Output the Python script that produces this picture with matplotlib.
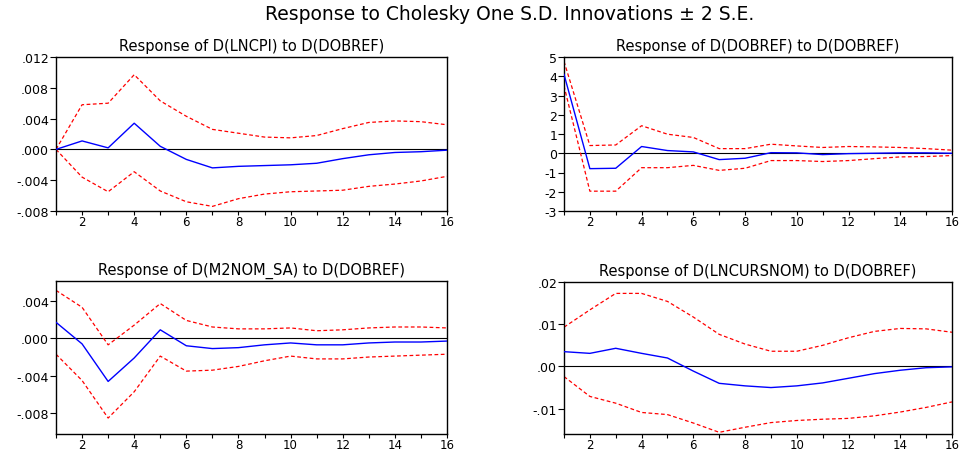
import matplotlib
matplotlib.use("Agg")
import matplotlib.pyplot as plt
from matplotlib.ticker import FixedLocator

plt.rcParams['font.family'] = ['DejaVu Sans']

periods = list(range(1, 17))

titles = [
    "Response of D(LNCPI) to D(DOBREF)",
    "Response of D(DOBREF) to D(DOBREF)",
    "Response of D(M2NOM_SA) to D(DOBREF)",
    "Response of D(LNCURSNOM) to D(DOBREF)",
]

# Panel 1: D(LNCPI)
cpi_resp = [0.0, 0.0011, 0.0002, 0.0034, 0.0004, -0.0013, -0.0024, -0.0022,
            -0.0021, -0.0020, -0.0018, -0.0012, -0.0007, -0.0004, -0.0003, -0.0001]
cpi_up = [0.0, 0.0058, 0.0060, 0.0097, 0.0063, 0.0043, 0.0026, 0.0021,
          0.0016, 0.0015, 0.0018, 0.0027, 0.0035, 0.0037, 0.0036, 0.0032]
cpi_lo = [0.0, -0.0036, -0.0055, -0.0029, -0.0054, -0.0068, -0.0074, -0.0064,
          -0.0058, -0.0055, -0.0054, -0.0053, -0.0048, -0.0045, -0.0041, -0.0035]

# Panel 2: D(DOBREF)
dob_resp = [4.1, -0.80, -0.78, 0.35, 0.14, 0.07, -0.33, -0.26,
            0.03, 0.02, -0.07, -0.02, 0.0, 0.02, 0.02, 0.0]
dob_up = [4.77, 0.40, 0.43, 1.43, 0.99, 0.82, 0.24, 0.24,
          0.47, 0.38, 0.30, 0.35, 0.33, 0.30, 0.24, 0.16]
dob_lo = [3.5, -1.97, -1.97, -0.75, -0.75, -0.63, -0.89, -0.78,
          -0.38, -0.38, -0.43, -0.38, -0.28, -0.19, -0.17, -0.12]

# Panel 3: D(M2NOM_SA)
m2_resp = [0.0017, -0.0006, -0.0046, -0.0021, 0.0009, -0.0008, -0.0011, -0.0010,
           -0.0007, -0.0005, -0.0007, -0.0007, -0.0005, -0.0004, -0.0004, -0.0003]
m2_up = [0.0051, 0.0033, -0.0007, 0.0014, 0.0037, 0.0019, 0.0012, 0.0010,
         0.0010, 0.0011, 0.0008, 0.0009, 0.0011, 0.0012, 0.0012, 0.0011]
m2_lo = [-0.0017, -0.0045, -0.0085, -0.0057, -0.0019, -0.0035, -0.0034, -0.0030,
         -0.0024, -0.0019, -0.0022, -0.0022, -0.0020, -0.0019, -0.0018, -0.0017]

# Panel 4: D(LNCURSNOM)
curs_resp = [0.0035, 0.0031, 0.0043, 0.0031, 0.0020, -0.0011, -0.0040, -0.0046,
             -0.0050, -0.0046, -0.0039, -0.0028, -0.0017, -0.0009, -0.0003, -0.0001]
curs_up = [0.0093, 0.0134, 0.0173, 0.0173, 0.0154, 0.0117, 0.0076, 0.0053,
           0.0036, 0.0036, 0.0050, 0.0068, 0.0083, 0.0090, 0.0089, 0.0081]
curs_lo = [-0.0024, -0.0071, -0.0087, -0.0109, -0.0114, -0.0134, -0.0156, -0.0144,
           -0.0133, -0.0128, -0.0125, -0.0123, -0.0117, -0.0108, -0.0097, -0.0084]

yticks = [
    [-0.008, -0.004, 0.0, 0.004, 0.008, 0.012],
    [-3, -2, -1, 0, 1, 2, 3, 4, 5],
    [-0.008, -0.004, 0.0, 0.004],
    [-0.01, 0.0, 0.01, 0.02],
]
yticklabels = [
    ["-.008", "-.004", ".000", ".004", ".008", ".012"],
    ["-3", "-2", "-1", "0", "1", "2", "3", "4", "5"],
    ["-.008", "-.004", ".000", ".004"],
    ["-.01", ".00", ".01", ".02"],
]
ylims = [(-0.008, 0.012), (-3, 5), (-0.0102, 0.0061), (-0.016, 0.02)]
xticklabels = ["", "2", "", "4", "", "6", "", "8", "", "10", "", "12", "", "14", "", "16"]

W, H = 962, 452
fig = plt.figure(figsize=(W / 100, H / 100), dpi=100)

boxes = [
    (56, 58, 447, 212),
    (564, 58, 952, 212),
    (56, 282, 447, 435),
    (564, 283, 952, 435),
]

series = [
    (cpi_resp, cpi_up, cpi_lo),
    (dob_resp, dob_up, dob_lo),
    (m2_resp, m2_up, m2_lo),
    (curs_resp, curs_up, curs_lo),
]

for i, (box, (resp, up, lo)) in enumerate(zip(boxes, series)):
    x0, y0, x1, y1 = box
    ax = fig.add_axes([x0 / W, 1 - y1 / H, (x1 - x0) / W, (y1 - y0) / H])
    ax.axhline(0, color='black', lw=0.8, zorder=1)
    ax.plot(periods, up, color='#ff0000', lw=0.9, ls=(0, (3, 2)), zorder=2)
    ax.plot(periods, lo, color='#ff0000', lw=0.9, ls=(0, (3, 2)), zorder=2)
    ax.plot(periods, resp, color='#0000ff', lw=1.0, zorder=3)
    ax.set_xlim(1, 16)
    ax.set_ylim(*ylims[i])
    ax.xaxis.set_major_locator(FixedLocator(periods))
    ax.set_xticklabels(xticklabels)
    ax.set_yticks(yticks[i])
    ax.set_yticklabels(yticklabels[i])
    ax.tick_params(axis='y', direction='out', length=4, width=0.8,
                   labelsize=9, pad=1, colors='black')
    ax.tick_params(axis='x', direction='out', length=3, width=0.8,
                   labelsize=8.5, pad=0, colors='black')
    for s in ax.spines.values():
        s.set_linewidth(1.0)
        s.set_color('black')
    ax.set_title(titles[i], fontsize=10.5, pad=5)

fig.text(0.53, 1 - 15 / H, "Response to Cholesky One S.D. Innovations \u00b1 2 S.E.",
         ha='center', va='center', fontsize=13.5)

fig.savefig("out.png", dpi=100)
